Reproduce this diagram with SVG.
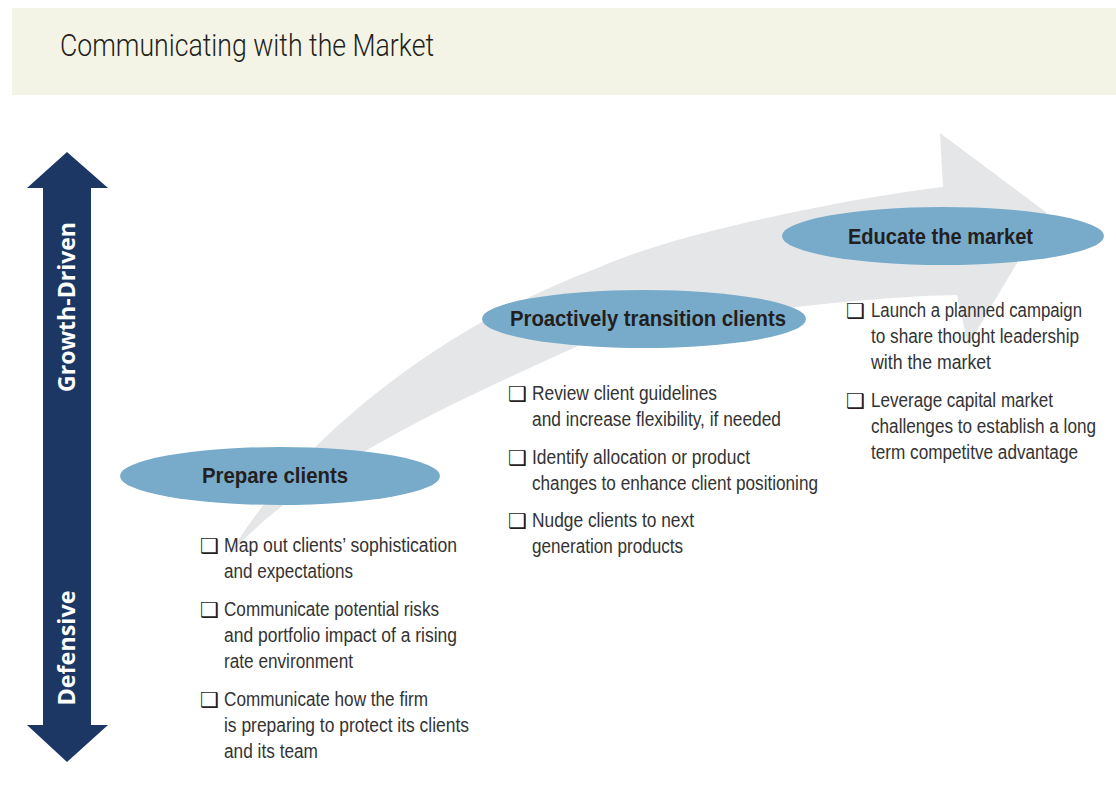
<svg xmlns="http://www.w3.org/2000/svg" width="1116" height="796" viewBox="0 0 1116 796">
<style>
.title{font-family:"Roboto","Liberation Sans",sans-serif;font-weight:300;font-size:31px;fill:#231f20}
.axis{font-family:"Open Sans","Liberation Sans",sans-serif;font-weight:700;font-size:23px;fill:#ffffff}
.label{font-family:"Liberation Sans","Arial",sans-serif;font-weight:700;font-size:22.5px;fill:#231f20}
.item{font-family:"Liberation Sans","Arial",sans-serif;font-size:20px;fill:#333333}
.box{font-family:"DejaVu Sans",sans-serif;font-size:21px;fill:#231f20}
.pill{fill:#77abc9}
</style>
<rect x="0" y="0" width="1116" height="796" fill="#ffffff"/>
<g id="header">
<rect x="12" y="8" width="1104" height="87" fill="#f4f4e6"/>
<text class="title" x="60" y="56" textLength="374" lengthAdjust="spacingAndGlyphs">Communicating with the Market</text>
</g>
<g id="axis">
<polygon points="67,152 108,188 91,188 91,725 108,725 67,762 27,725 43,725 43,188 27,188" fill="#1c3764"/>
<text class="axis" transform="translate(75,307) rotate(-90)" text-anchor="middle" textLength="170" lengthAdjust="spacingAndGlyphs">Growth-Driven</text>
<text class="axis" transform="translate(75,648) rotate(-90)" text-anchor="middle" textLength="115" lengthAdjust="spacingAndGlyphs">Defensive</text>
</g>
<g id="connectors">
<path d="M228,557 C290,450 430,330 600,267 C680,231 863,196 943,187 L940,133 L1047,213 L968,345 L957,295 C880,296 680,315 580,345 C470,395 300,470 228,557 Z" fill="#e5e6e8"/>
</g>
<g id="node-prepare">
<ellipse class="pill" cx="280" cy="476" rx="160" ry="29"/>
<text class="label" x="202" y="483" textLength="146" lengthAdjust="spacingAndGlyphs">Prepare clients</text>
<text class="box" x="200" y="553">❑</text>
<text class="item" x="224" y="552" textLength="233" lengthAdjust="spacingAndGlyphs">Map out clients’ sophistication</text>
<text class="item" x="224" y="578" textLength="129" lengthAdjust="spacingAndGlyphs">and expectations</text>
<text class="box" x="200" y="617">❑</text>
<text class="item" x="224" y="616" textLength="215" lengthAdjust="spacingAndGlyphs">Communicate potential risks</text>
<text class="item" x="224" y="642" textLength="233" lengthAdjust="spacingAndGlyphs">and portfolio impact of a rising</text>
<text class="item" x="224" y="668" textLength="129" lengthAdjust="spacingAndGlyphs">rate environment</text>
<text class="box" x="200" y="707">❑</text>
<text class="item" x="224" y="706" textLength="204" lengthAdjust="spacingAndGlyphs">Communicate how the firm</text>
<text class="item" x="224" y="732" textLength="245" lengthAdjust="spacingAndGlyphs">is preparing to protect its clients</text>
<text class="item" x="224" y="758" textLength="94" lengthAdjust="spacingAndGlyphs">and its team</text>
</g>
<g id="node-transition">
<ellipse class="pill" cx="644" cy="319" rx="162" ry="29"/>
<text class="label" x="510" y="326" textLength="276" lengthAdjust="spacingAndGlyphs">Proactively transition clients</text>
<text class="box" x="508" y="401">❑</text>
<text class="item" x="532" y="400" textLength="185" lengthAdjust="spacingAndGlyphs">Review client guidelines</text>
<text class="item" x="532" y="426" textLength="249" lengthAdjust="spacingAndGlyphs">and increase flexibility, if needed</text>
<text class="box" x="508" y="465">❑</text>
<text class="item" x="532" y="464" textLength="218" lengthAdjust="spacingAndGlyphs">Identify allocation or product</text>
<text class="item" x="532" y="490" textLength="286" lengthAdjust="spacingAndGlyphs">changes to enhance client positioning</text>
<text class="box" x="508" y="528">❑</text>
<text class="item" x="532" y="527" textLength="162" lengthAdjust="spacingAndGlyphs">Nudge clients to next</text>
<text class="item" x="532" y="553" textLength="151" lengthAdjust="spacingAndGlyphs">generation products</text>
</g>
<g id="node-educate">
<ellipse class="pill" cx="943" cy="236" rx="161" ry="29"/>
<text class="label" x="848" y="244" textLength="185" lengthAdjust="spacingAndGlyphs">Educate the market</text>
<text class="box" x="846" y="318">❑</text>
<text class="item" x="871" y="317" textLength="211" lengthAdjust="spacingAndGlyphs">Launch a planned campaign</text>
<text class="item" x="871" y="343" textLength="208" lengthAdjust="spacingAndGlyphs">to share thought leadership</text>
<text class="item" x="871" y="369" textLength="120" lengthAdjust="spacingAndGlyphs">with the market</text>
<text class="box" x="846" y="408">❑</text>
<text class="item" x="871" y="407" textLength="182" lengthAdjust="spacingAndGlyphs">Leverage capital market</text>
<text class="item" x="871" y="433" textLength="225" lengthAdjust="spacingAndGlyphs">challenges to establish a long</text>
<text class="item" x="871" y="459" textLength="207" lengthAdjust="spacingAndGlyphs">term competitve advantage</text>
</g>
</svg>
